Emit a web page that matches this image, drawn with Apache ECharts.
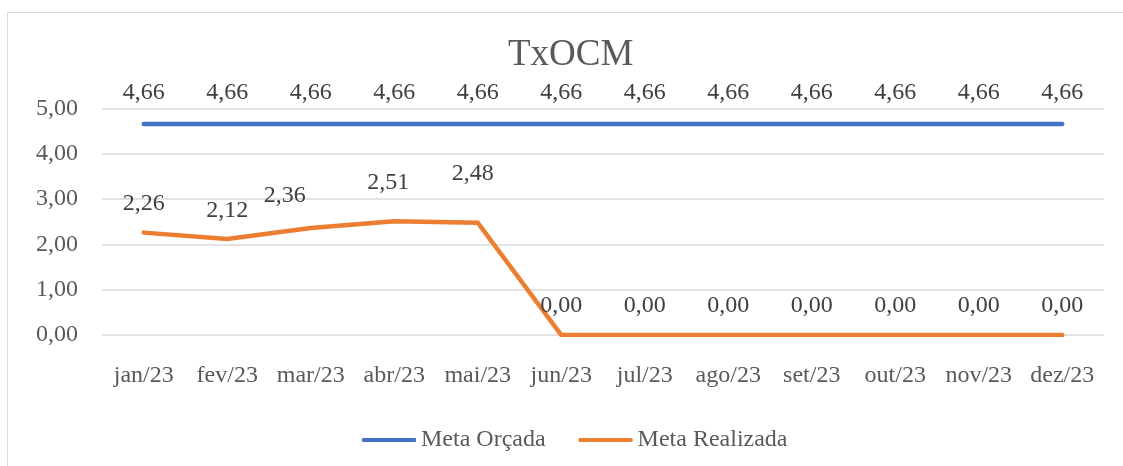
<!DOCTYPE html>
<html>
<head>
<meta charset="utf-8">
<script src="https://cdn.jsdelivr.net/npm/echarts@6/dist/echarts.min.js"></script>
<style>
html,body{margin:0;padding:0;background:#fff;}
#frame{position:absolute;left:7px;top:12px;width:1200px;height:500px;border-left:1px solid #d9d9d9;border-top:1px solid #d9d9d9;}
#chart{position:absolute;left:0;top:0;width:1123px;height:466px;}
</style>
</head>
<body>
<div id="frame"></div>
<div id="chart"></div>
<script>
const categories = ['jan/23','fev/23','mar/23','abr/23','mai/23','jun/23','jul/23','ago/23','set/23','out/23','nov/23','dez/23'];
const metaOrcada = [4.66,4.66,4.66,4.66,4.66,4.66,4.66,4.66,4.66,4.66,4.66,4.66];
const metaRealizada = [2.26,2.12,2.36,2.51,2.48,0,0,0,0,0,0,0];
const yTicks = [0,1,2,3,4,5];
// label nudges (style only) to mimic the reference label placement
const realizadaLabelDx = [0,0,-26,-6,-5,0,0,0,0,0,0,0];
const realizadaLabelLift = [0,0,4,10,20,1,1,1,1,1,1,1];

const fmt = v => v.toFixed(2).replace('.', ',');
const serif = '"Liberation Serif","DejaVu Serif",serif';

const chart = echarts.init(document.getElementById('chart'));
chart.setOption({
  backgroundColor: 'transparent',
  animation: false,
  title: {
    text: 'TxOCM', left: 503, top: 32,
    textStyle: {fontFamily: serif, fontSize: 37, fontWeight: 'normal', color: '#595959'}
  },
  legend: {
    top: 423, left: 357,
    itemWidth: 54, itemHeight: 4, itemGap: 33,
    icon: 'roundRect',
    textStyle: {fontFamily: serif, fontSize: 24, color: '#595959'},
    data: ['Meta Orçada', 'Meta Realizada']
  },
  grid: {left: 102, right: 19, top: 108.5, bottom: 131},
  xAxis: {
    type: 'category', data: categories, boundaryGap: true,
    axisLine: {show: false}, axisTick: {show: false},
    axisLabel: {interval: 0, fontFamily: serif, fontSize: 24, color: '#595959', margin: 29}
  },
  yAxis: {
    type: 'value', min: yTicks[0], max: yTicks[yTicks.length-1], interval: 1,
    axisLine: {show: false}, axisTick: {show: false},
    axisLabel: {fontFamily: serif, fontSize: 24, color: '#595959', margin: 24, formatter: v => fmt(v)},
    splitLine: {lineStyle: {color: '#d9d9d9', width: 1.5}}
  },
  series: [
    {
      name: 'Meta Orçada', type: 'line', data: metaOrcada,
      symbol: 'circle', symbolSize: 1, showSymbol: true,
      lineStyle: {color: '#4472C4', width: 4.5, cap: 'round'},
      itemStyle: {color: '#4472C4'},
      label: {show: true, position: 'top', distance: 19, fontFamily: serif, fontSize: 24, color: '#404040', formatter: p => fmt(p.value)}
    },
    {
      name: 'Meta Realizada', type: 'line',
      data: metaRealizada.map((v, i) => ({value: v, label: {offset: [realizadaLabelDx[i], -realizadaLabelLift[i]]}})),
      symbol: 'circle', symbolSize: 1, showSymbol: true,
      lineStyle: {color: '#ED7D31', width: 4.5, cap: 'round', join: 'miter'},
      itemStyle: {color: '#ED7D31'},
      label: {show: true, position: 'top', distance: 16, fontFamily: serif, fontSize: 24, color: '#404040', formatter: p => fmt(p.value)}
    }
  ]
});
</script>
</body>
</html>
